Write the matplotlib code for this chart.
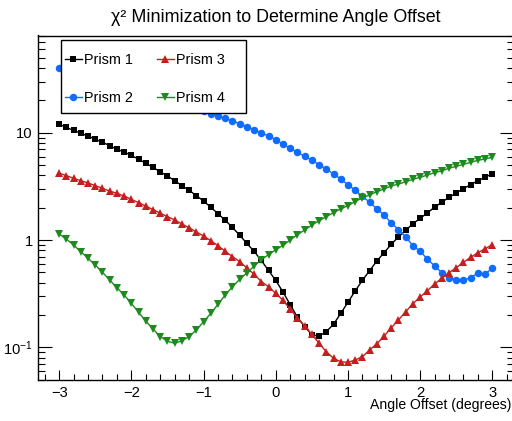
import numpy as np
import matplotlib
matplotlib.use("Agg")
import matplotlib.pyplot as plt
from matplotlib.patches import Rectangle
from matplotlib.ticker import FixedLocator, FixedFormatter, LogLocator, NullFormatter, MultipleLocator

plt.rcParams['font.family'] = ['Liberation Sans', 'DejaVu Sans']
plt.rcParams['mathtext.fontset'] = 'custom'
plt.rcParams['mathtext.rm'] = 'Liberation Sans'
plt.rcParams['mathtext.it'] = 'Liberation Sans:italic'
plt.rcParams['axes.unicode_minus'] = True

# Angle offsets scanned (degrees), 0.1 degree steps
angle = np.round(np.linspace(-3.0, 3.0, 61), 1)

prism1 = [11.98, 11.2, 10.5, 9.87, 9.31, 8.68, 8.14, 7.57, 7.0, 6.61,
          6.15, 5.65, 5.19, 4.76, 4.31, 3.95, 3.57, 3.21, 2.91, 2.59,
          2.31, 2.02, 1.76, 1.53, 1.31, 1.11, 0.93, 0.785, 0.645, 0.52,
          0.42, 0.328, 0.25, 0.191, 0.156, 0.131, 0.127, 0.14, 0.164, 0.207,
          0.263, 0.335, 0.421, 0.518, 0.637, 0.762, 0.912, 1.07, 1.23, 1.42,
          1.59, 1.79, 2.02, 2.25, 2.50, 2.74, 3.01, 3.28, 3.57, 3.84,
          4.15]

prism2 = [40.4, 38.9, 37.5, 36.1, 34.7, 33.3, 31.9, 30.5, 29.2, 27.9,
          26.7, 25.4, 24.2, 23.0, 21.9, 20.7, 19.7, 18.7, 17.7, 16.7,
          15.8, 15.0, 14.3, 13.6, 12.9, 12.1, 11.4, 10.65, 9.95, 9.3,
          8.63, 7.80, 7.15, 6.57, 6.02, 5.55, 5.03, 4.58, 4.12, 3.71,
          3.26, 2.92, 2.55, 2.25, 1.95, 1.71, 1.44, 1.25, 1.07, 0.885,
          0.785, 0.665, 0.573, 0.496, 0.447, 0.424, 0.424, 0.445, 0.492, 0.482,
          0.547]

prism3 = [4.19, 3.98, 3.76, 3.57, 3.40, 3.21, 3.03, 2.86, 2.72, 2.57,
          2.39, 2.23, 2.07, 1.92, 1.78, 1.65, 1.54, 1.41, 1.30, 1.19,
          1.09, 0.985, 0.885, 0.785, 0.70, 0.63, 0.548, 0.48, 0.41, 0.367,
          0.318, 0.274, 0.227, 0.188, 0.158, 0.132, 0.109, 0.091, 0.079, 0.0734,
          0.0724, 0.0762, 0.0817, 0.0944, 0.108, 0.127, 0.152, 0.18, 0.215, 0.255,
          0.294, 0.337, 0.389, 0.440, 0.496, 0.552, 0.620, 0.690, 0.762, 0.830,
          0.904]

prism4 = [1.14, 1.02, 0.898, 0.778, 0.675, 0.585, 0.500, 0.424, 0.359, 0.307,
          0.257, 0.212, 0.176, 0.148, 0.126, 0.114, 0.109, 0.115, 0.126, 0.145,
          0.173, 0.207, 0.252, 0.307, 0.367, 0.43, 0.495, 0.57, 0.655, 0.73,
          0.812, 0.89, 1.0, 1.12, 1.24, 1.38, 1.51, 1.65, 1.80, 1.95,
          2.09, 2.28, 2.48, 2.63, 2.82, 2.99, 3.19, 3.32, 3.49, 3.68,
          3.84, 4.03, 4.24, 4.42, 4.66, 4.86, 5.07, 5.30, 5.53, 5.69,
          5.90]

labels = ['Prism 1', 'Prism 2', 'Prism 3', 'Prism 4']
colors = ['#000000', '#0f6cff', '#c41e1e', '#1c8a1c']
markers = ['s', 'o', '^', 'v']
msizes = [4.6, 5.4, 5.4, 5.4]

x_major = [-3, -2, -1, 0, 1, 2, 3]
x_labels = ['\u22123', '\u22122', '\u22121', '0', '1', '2', '3']
y_major = [0.1, 1, 10]
y_labels = ['$10^{-1}$', '1', '10']

W, H = 512, 421
fig = plt.figure(figsize=(W / 100, H / 100), dpi=100)
ax = fig.add_axes([37.5 / W, 1 - 380 / H, 476.5 / W, 344.5 / H])

for vals, lab, col, mk, ms in zip([prism1, prism2, prism3, prism4],
                                  labels, colors, markers, msizes):
    ax.plot(angle, vals, color=col, lw=1.0, marker=mk, ms=ms, mew=0,
            label=lab, zorder=2)

ax.set_yscale('log')
ax.set_xlim(-3.3, 3.3)
ax.set_ylim(0.0496, 80.5)

ax.xaxis.set_major_locator(FixedLocator(x_major))
ax.xaxis.set_major_formatter(FixedFormatter(x_labels))
ax.xaxis.set_minor_locator(MultipleLocator(0.2))
ax.yaxis.set_major_locator(FixedLocator(y_major))
ax.yaxis.set_major_formatter(FixedFormatter(y_labels))
ax.yaxis.set_minor_locator(LogLocator(base=10, subs=np.arange(2, 10)))
ax.yaxis.set_minor_formatter(NullFormatter())

ax.tick_params(axis='x', which='both', direction='in', top=False, bottom=True,
               labelsize=10.6, pad=4, width=0.8)
ax.tick_params(axis='x', which='major', length=7.4)
ax.tick_params(axis='x', which='minor', length=4.2)
ax.tick_params(axis='y', which='both', direction='in', left=True, right=True,
               labelsize=10.6, pad=3.5, width=0.8)
ax.tick_params(axis='y', which='major', length=10)
ax.tick_params(axis='y', which='minor', length=5)
for sp in ax.spines.values():
    sp.set_linewidth(1.0)

# Legend box and entries
box = Rectangle((61.3 / W, 1 - 112.7 / H), 185 / W, 72.7 / H,
                transform=fig.transFigure, facecolor='white',
                edgecolor='black', lw=1.0, zorder=4)
ax.add_artist(box)
box.set_clip_on(False)
leg = ax.legend(ncol=2, loc='upper left', bbox_to_anchor=(65 / W, 1 - 53.5 / H),
                bbox_transform=fig.transFigure, frameon=False, fontsize=10.4,
                handlelength=1.16, handletextpad=0.18, columnspacing=1.64,
                labelspacing=1.62, borderpad=0, borderaxespad=0, numpoints=1)
leg.set_zorder(5)

fig.text((37.5 + 514) / 2 / W, 1 - 18 / H,
         '\u03c7\u00b2 Minimization to Determine Angle Offset',
         ha='center', va='center', fontsize=12.9)
fig.text(511.5 / W, 1 - 405 / H, 'Angle Offset (degrees)',
         ha='right', va='center', fontsize=10.1)

fig.savefig('out.png', dpi=100)
